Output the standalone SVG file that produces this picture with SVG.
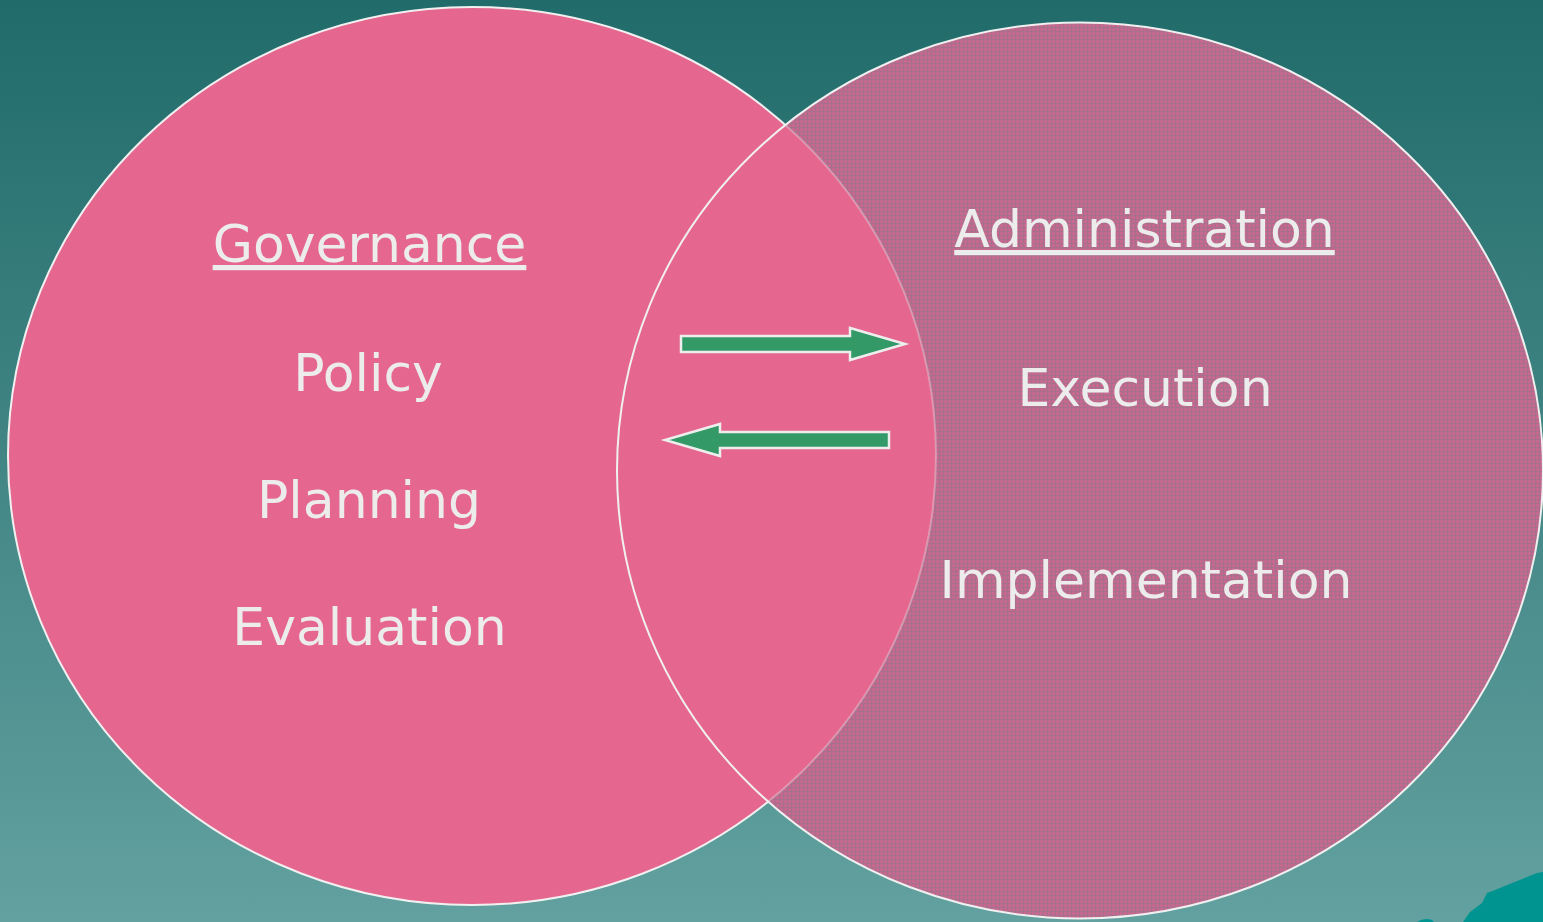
<svg xmlns="http://www.w3.org/2000/svg" width="1543" height="922" viewBox="0 0 1543 922">
  <defs>
    <linearGradient id="bg" x1="0" y1="0" x2="0" y2="1">
      <stop offset="0" stop-color="#216b6b"/>
      <stop offset="1" stop-color="#62a19f"/>
    </linearGradient>
    <!-- fine halftone screen used for the right-hand set -->
    <pattern id="screen" width="4" height="4" patternUnits="userSpaceOnUse">
      <rect width="4" height="4" fill="#c06a8f"/>
      <rect x="0" y="3" width="4" height="1" fill="#a8708c"/>
      <rect x="3" y="0" width="1" height="4" fill="#a8708c"/>
      <rect x="1" y="1" width="1" height="1" fill="#e6608c"/>
    </pattern>
    <ellipse id="leftShape" cx="472" cy="456" rx="464" ry="449"/>
    <ellipse id="rightShape" cx="1080" cy="470.5" rx="463" ry="448"/>
    <clipPath id="insideRight">
      <use href="#rightShape"/>
    </clipPath>
    <clipPath id="outsideRight">
      <path clip-rule="evenodd" d="M0 0H1543V922H0Z M617 470.5a463 448 0 1 0 926 0a463 448 0 1 0 -926 0Z"/>
    </clipPath>
  </defs>
  <style>
    .outline { fill: none; stroke: #f0f0f0; stroke-width: 2; }
    .label { font-family: "DejaVu Sans", Verdana, sans-serif; font-size: 52px; fill: #ececec; text-anchor: middle; }
    .title { text-decoration: underline; }
    .arrow { fill: #339966; stroke: #eeeeee; stroke-width: 2.5; stroke-linejoin: miter; }
  </style>

  <!-- backdrop -->
  <rect width="1543" height="922" fill="url(#bg)"/>
  <path d="M1417 922 Q1424 917 1432 920 L1434 922 Z" fill="#009490"/>
  <path d="M1463 922 L1470 912 L1482 903 L1487 893 L1495 890 L1512 883 L1527 877 L1537 873 L1543 872 L1543 922 Z" fill="#009490"/>

  <!-- Administration set -->
  <g id="administration">
    <use href="#rightShape" fill="url(#screen)"/>
  </g>

  <!-- Governance set -->
  <g id="governance">
    <use href="#leftShape" fill="#e5668f"/>
    <use href="#leftShape" class="outline" clip-path="url(#outsideRight)"/>
    <use href="#leftShape" class="outline" clip-path="url(#insideRight)" opacity="0.35"/>
  </g>

  <use href="#rightShape" class="outline"/>

  <g id="governance-labels">
    <text class="label title" x="369.5" y="262">Governance</text>
    <text class="label" x="368" y="391">Policy</text>
    <text class="label" x="369" y="518">Planning</text>
    <text class="label" x="369.5" y="645">Evaluation</text>
  </g>

  <g id="administration-labels">
    <text class="label title" x="1144.5" y="247">Administration</text>
    <text class="label" x="1145" y="406">Execution</text>
    <text class="label" x="1146" y="598">Implementation</text>
  </g>

  <!-- exchange between the two sets -->
  <g id="connectors">
    <polygon class="arrow" points="681,336 850,336 850,328 905,344 850,360 850,352 681,352"/>
    <polygon class="arrow" points="889,432 720,432 720,424 665,440 720,456 720,448 889,448"/>
  </g>
</svg>
